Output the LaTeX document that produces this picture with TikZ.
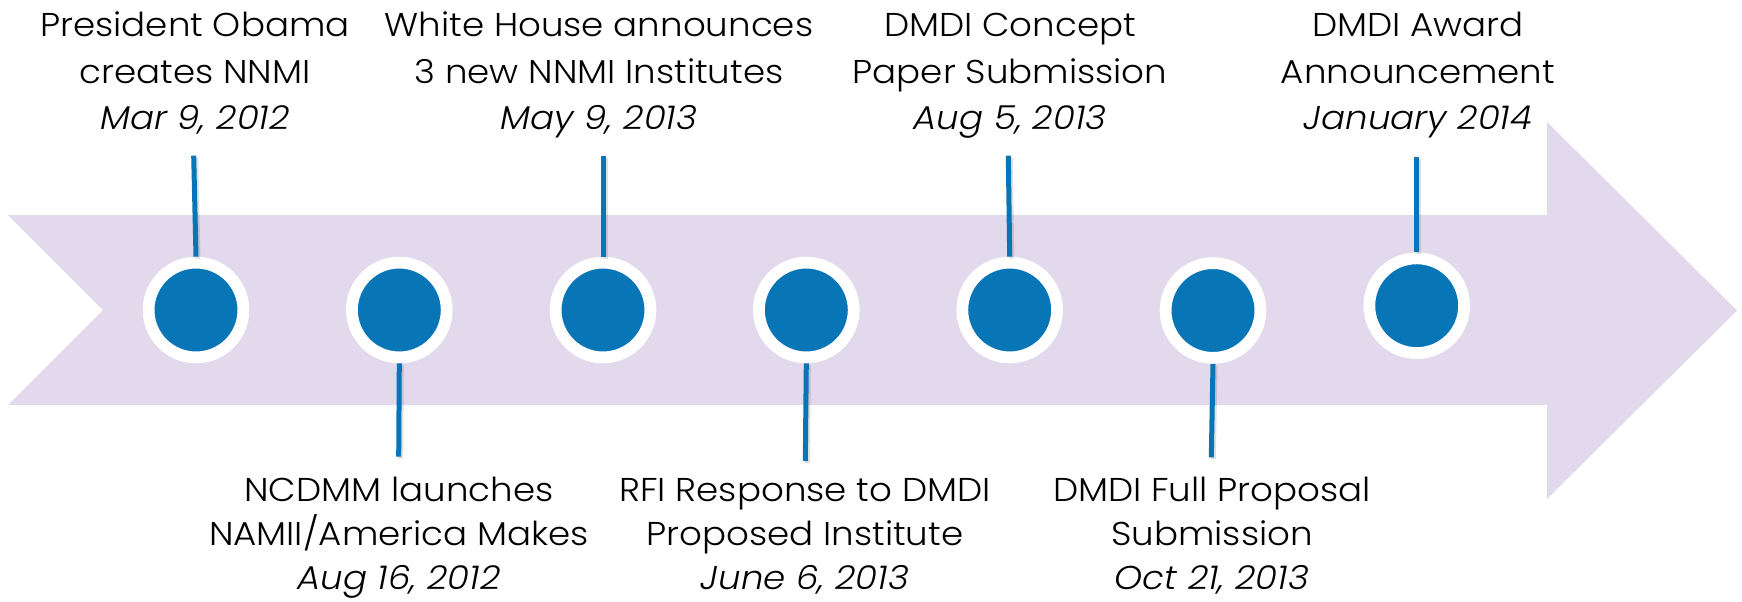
\documentclass[tikz,border=0pt]{standalone}
\usepackage{fontspec}
\setmainfont{Poppins}[FakeStretch=1.08, UprightFont=* Light, ItalicFont=* Light Italic]
\definecolor{lavender}{RGB}{226,217,236}
\definecolor{tlblue}{RGB}{7,117,182}
\newcommand\evtfont{\fontsize{33}{40}\selectfont}
\tikzset{
  band/.style={fill=lavender, draw=none},
  dot/.style={circle, fill=tlblue, draw=white, line width=11.8pt,
    minimum size=94.8pt, inner sep=0pt},
  stalk/.style={draw=tlblue, line width=5pt},
  stalkshade/.style={draw=black, line width=5pt, opacity=0.12},
  evt/.style={anchor=base, inner sep=0pt, font=\evtfont},
  evtdate/.style={evt, font=\evtfont\itshape},
}
\begin{document}
\begin{tikzpicture}[x=1pt,y=-1pt]
\useasboundingbox (0,0) rectangle (1742,602);

% timeline arrow with notched tail
\path[band] (8,215) -- (1547,215) -- (1547,122) -- (1737,310.5)
  -- (1547,499) -- (1547,405) -- (8,405) -- (103,310) -- cycle;

% milestone dots
\node[dot] (c1) at (196,310) {};
\node[dot] (c2) at (399.3,310) {};
\node[dot] (c3) at (603,310) {};
\node[dot] (c4) at (806.3,310) {};
\node[dot] (c5) at (1009.7,310) {};
\node[dot] (c6) at (1213,310.5) {};
\node[dot] (c7) at (1416.7,305.7) {};

% free ends of the stalks
\coordinate (e1) at (193.7,155.7);
\coordinate (e2) at (398.7,456.7);
\coordinate (e3) at (603,155.7);
\coordinate (e4) at (805.3,461);
\coordinate (e5) at (1008.3,155.7);
\coordinate (e6) at (1211.3,457.3);
\coordinate (e7) at (1416.7,157.3);

% stalks with a faint shade
\foreach \i/\a in {1/north,2/south,3/north,4/south,5/north,6/south,7/north}{
  \draw[stalkshade, transform canvas={xshift=2pt,yshift=-2pt}] (c\i.\a) -- (e\i);
  \draw[stalk] (c\i.\a) -- (e\i);
}

% labels above the arrow
\node[evt] (t1a) at (195,37) {President Obama};
\node[evt] (t1b) at (195,83) {creates NNMI};
\node[evtdate] (t1c) at (195,129) {Mar 9, 2012};

\node[evt] (t3a) at (599,37) {White House announces};
\node[evt] (t3b) at (599,83) {3 new NNMI Institutes};
\node[evtdate] (t3c) at (599,129) {May 9, 2013};

\node[evt] (t5a) at (1010,37) {DMDI Concept};
\node[evt] (t5b) at (1010,83) {Paper Submission};
\node[evtdate] (t5c) at (1010,129) {Aug 5, 2013};

\node[evt] (t7a) at (1418,37) {DMDI Award};
\node[evt] (t7b) at (1418,83) {Announcement};
\node[evtdate] (t7c) at (1418,129) {January 2014};

% labels below the arrow
\node[evt] (t2a) at (399,501) {NCDMM launches};
\node[evt] (t2b) at (399,545) {NAMII/America Makes};
\node[evtdate] (t2c) at (399,589) {Aug 16, 2012};

\node[evt] (t4a) at (805,501) {RFI Response to DMDI};
\node[evt] (t4b) at (805,545) {Proposed Institute};
\node[evtdate] (t4c) at (805,589) {June 6, 2013};

\node[evt] (t6a) at (1212,501) {DMDI Full Proposal};
\node[evt] (t6b) at (1212,545) {Submission};
\node[evtdate] (t6c) at (1212,589) {Oct 21, 2013};
\end{tikzpicture}
\end{document}
